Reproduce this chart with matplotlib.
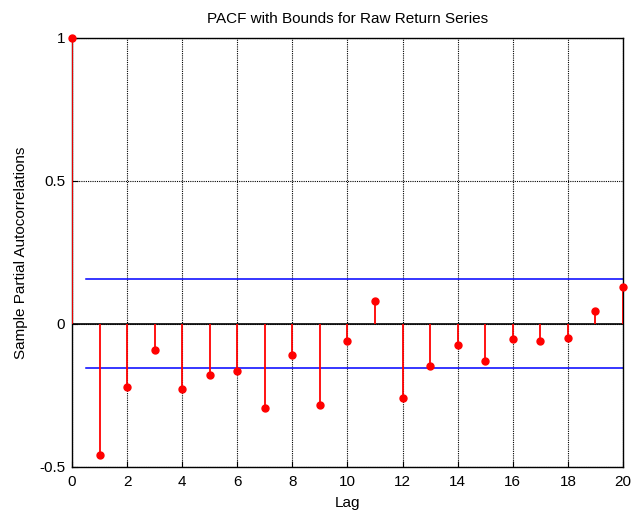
import numpy as np
import matplotlib.pyplot as plt

plt.rcParams['font.family'] = ['Liberation Sans', 'DejaVu Sans']

# PACF values
lags = np.arange(21)
pacf = [1.0, -0.457, -0.219, -0.091, -0.229, -0.180, -0.163, -0.293, -0.110,
        -0.285, -0.058, 0.082, -0.260, -0.146, -0.075, -0.131, -0.052, -0.060,
        -0.048, 0.047, 0.131]
upper_bound = 0.157
lower_bound = -0.154
bound_start = 0.5

fig = plt.figure(figsize=(6.33, 5.16), dpi=100)
ax = fig.add_axes([0.1137, 0.095, 0.8705, 0.8314])

# stems
ax.vlines(lags, 0, pacf, colors='#ff0000', linewidth=1.3, zorder=3)
ax.plot(lags, pacf, 'o', color='#ff0000', markersize=5, zorder=4, clip_on=False)
ax.axhline(0, color='black', linewidth=1.2, zorder=2)

# confidence bounds
ax.plot([bound_start, lags[-1]], [upper_bound, upper_bound], color='#0000ff', linewidth=1.1, zorder=2)
ax.plot([bound_start, lags[-1]], [lower_bound, lower_bound], color='#0000ff', linewidth=1.1, zorder=2)

ax.set_xlim(0, 20)
ax.set_ylim(-0.5, 1)
ax.set_xticks(np.arange(0, 21, 2))
ax.set_yticks([-0.5, 0, 0.5, 1])
ax.set_yticklabels(['-0.5', '0', '0.5', '1'])
ax.grid(True, color='black', linestyle=(0, (1, 1)), linewidth=0.8)
ax.set_axisbelow(True)
ax.tick_params(direction='in', length=4, labelsize=11, top=False, right=False)
ax.tick_params(axis='x', pad=6)
ax.tick_params(axis='y', pad=5)
for s in ax.spines.values():
    s.set_linewidth(1.0)

ax.set_xlabel('Lag', fontsize=11, labelpad=5)
ax.set_ylabel('Sample Partial Autocorrelations', fontsize=11, labelpad=8)
ax.set_title('PACF with Bounds for Raw Return Series', fontsize=11, pad=11)

fig.savefig('out.png', dpi=100)
